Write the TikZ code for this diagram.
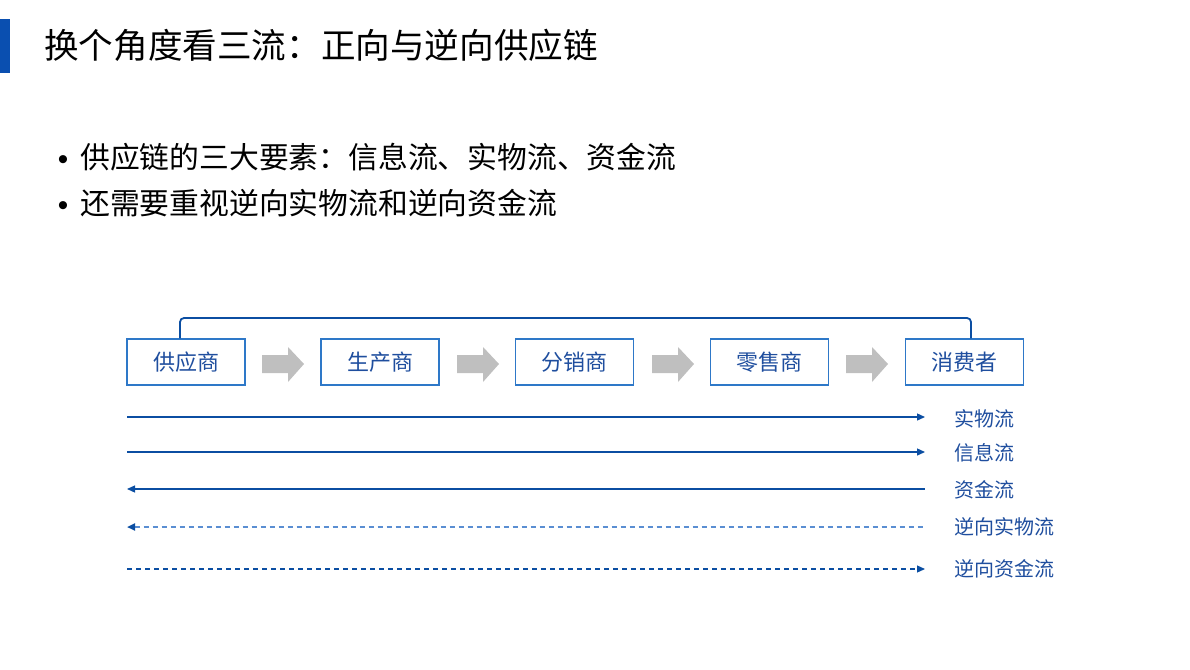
\documentclass[tikz,border=0pt]{standalone}
\usepackage{fontspec}
\setmainfont{Noto Sans CJK SC}
\newfontfamily\bulletfont{Liberation Sans}
\usetikzlibrary{arrows.meta}
\definecolor{barblue}{HTML}{0A4FB0}
\definecolor{boxborder}{HTML}{2E78C8}
\definecolor{boxtext}{HTML}{1F4E9E}
\definecolor{linedark}{HTML}{0B4EA2}
\definecolor{linelight}{HTML}{5A8ED2}
\definecolor{arrowgray}{HTML}{BFBFBF}
\tikzset{
  title/.style={anchor=west,inner sep=0pt,font=\fontsize{34.6}{40}\selectfont,text=black},
  bullettext/.style={anchor=west,inner sep=0pt,font=\fontsize{29.8}{34}\selectfont,text=black},
  bulletdot/.style={anchor=base,inner sep=0pt,font=\bulletfont\fontsize{29.8}{34}\selectfont,text=black},
  stage/.style={draw=boxborder,line width=1.3pt,minimum width=118pt,minimum height=46pt,inner sep=0pt,font=\fontsize{22}{26}\selectfont,text=boxtext},
  flowlabel/.style={anchor=west,inner sep=0pt,font=\fontsize{20}{24}\selectfont,text=boxtext},
  flow/.style={draw=linedark,line width=1.3pt},
  tip/.style={-{Triangle[length=8pt,width=7pt,color=linedark]}},
  rtip/.style={{Triangle[length=8pt,width=7pt,color=linedark]}-},
  revdash/.style={draw=linelight,line width=2pt,dash pattern=on 5pt off 4pt},
  revdash2/.style={draw=linedark,line width=1.2pt,dash pattern=on 5pt off 4pt},
  grayarrow/.style={fill=arrowgray,draw=none}
}
\begin{document}
\begin{tikzpicture}[x=1pt,y=-1pt]
\useasboundingbox (0,0) rectangle (1190,669);
\fill[barblue] (0,19) rectangle (10,73);
\node[title] (t) at (44,45.5) {换个角度看三流：正向与逆向供应链};
\node[bulletdot] (d1) at (63,169) {•};
\node[bullettext] (b1) at (80,157) {供应链的三大要素：信息流、实物流、资金流};
\node[bulletdot] (d2) at (63,215) {•};
\node[bullettext] (b2) at (80,203) {还需要重视逆向实物流和逆向资金流};
% stages
\node[stage] (s1) at (186,362) {供应商};
\node[stage] (s2) at (380,362) {生产商};
\node[stage] (s3) at (574.5,362) {分销商};
\node[stage] (s4) at (769.5,362) {零售商};
\node[stage] (s5) at (964.5,362) {消费者};
% gray arrows
\foreach \a in {262,457,652,846}{
  \fill[grayarrow] (\a,355) -- (\a+26,355) -- (\a+26,347) -- (\a+42,364) -- (\a+26,382) -- (\a+26,373) -- (\a,373) -- cycle;
}
% bracket
\draw[draw=linedark,line width=1.8pt,rounded corners=4pt] (s1.north -| 180,0) -- (180,318) -- (971,318) -- (s5.north -| 971,0);
% flows
\coordinate (l1) at (127,417); \coordinate (r1) at (925,417);
\coordinate (l2) at (127,452); \coordinate (r2) at (925,452);
\coordinate (l3) at (127,489); \coordinate (r3) at (925,489);
\coordinate (l4) at (127,527); \coordinate (r4) at (925,527);
\coordinate (l5) at (127,569); \coordinate (r5) at (925,569);
\draw[flow,tip] (l1) -- (r1);
\draw[flow,tip] (l2) -- (r2);
\draw[flow,rtip] (l3) -- (r3);
\draw[revdash,rtip] (l4) -- (r4);
\draw[revdash2,tip] (l5) -- (r5);
\node[flowlabel] (f1) at (954,419) {实物流};
\node[flowlabel] (f2) at (954,453) {信息流};
\node[flowlabel] (f3) at (954,490) {资金流};
\node[flowlabel] (f4) at (954,527) {逆向实物流};
\node[flowlabel] (f5) at (954,569) {逆向资金流};
\end{tikzpicture}
\end{document}
